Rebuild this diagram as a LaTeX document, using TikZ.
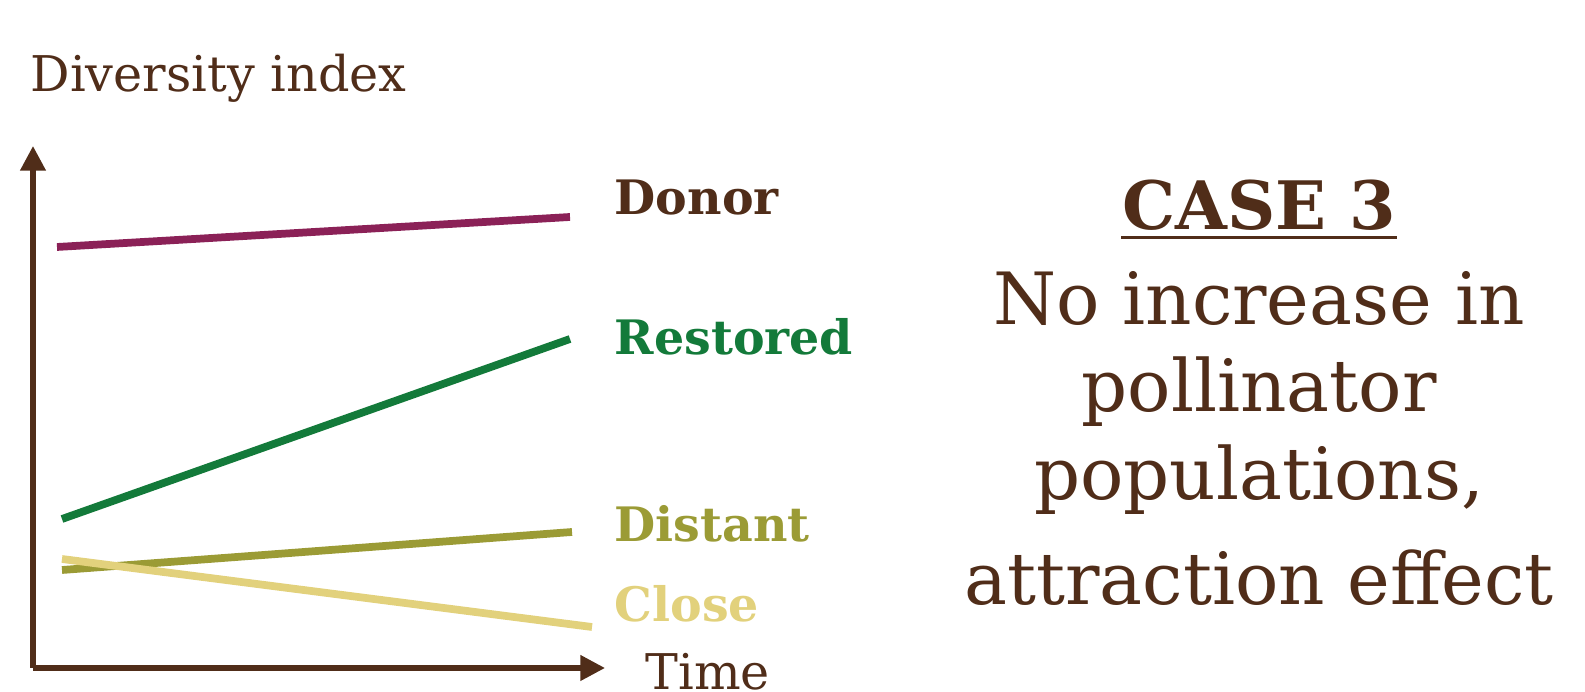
\documentclass[tikz,border=0pt]{standalone}
\usepackage{fontspec}
\setmainfont{DejaVu Serif}
\usetikzlibrary{arrows.meta}
\definecolor{bark}{RGB}{80,45,25}
\definecolor{donorc}{RGB}{139,33,87}
\definecolor{restoredc}{RGB}{19,122,58}
\definecolor{distantc}{RGB}{155,155,53}
\definecolor{closec}{RGB}{226,209,124}
\begin{document}
\begin{tikzpicture}[x=0.01cm, y=-0.01cm, inner sep=0pt,
        series/.style={line width=2.2pt},
        axis/.style={bark, line width=1.5pt, -{Triangle[length=7pt,width=7pt]}},
        tag/.style={anchor=base west, font=\fontsize{13.5}{16}\bfseries},
        caseline/.style={anchor=base, text=bark, font=\fontsize{20.5}{24}\selectfont}]
    \useasboundingbox (0,0) rectangle (1585,692);
    % axes
    \coordinate (o) at (33,668);
    \draw[axis] (o) -- (33,146);
    \draw[axis] (o) -- (605,668);
    \node[anchor=base west, text=bark, font=\fontsize{14}{16}\selectfont] (ylab) at (30,92) {Diversity index};
    \node[anchor=base west, text=bark, font=\fontsize{14}{16}\selectfont] (xlab) at (645,690) {Time};

    % the four sites
    \draw[series, donorc] (57,247) -- (570,217);
    \draw[series, restoredc] (62,519) -- (570,339);
    \draw[series, distantc] (62,570) -- (572,532);
    \draw[series, closec] (62,559) -- (592,627);
    \node[tag, text=bark] (donor) at (614,215) {Donor};
    \node[tag, text=restoredc] (restored) at (614,355) {Restored};
    \node[tag, text=distantc] (distant) at (614,542) {Distant};
    \node[tag, text=closec] (close) at (614,622) {Close};

    % case text
    \node[caseline, font=\fontsize{19}{24}\bfseries] (case) at (1259,230) {CASE 3};
    \draw[bark, line width=0.9pt] ([yshift=-2.2pt]case.base west) -- ([yshift=-2.2pt]case.base east);
    \node[caseline] (l1) at (1259,325) {No increase in};
    \node[caseline] (l2) at (1259,412) {pollinator};
    \node[caseline] (l3) at (1259,500) {populations,};
    \node[caseline] (l4) at (1259,605) {attraction effect};
\end{tikzpicture}
\end{document}
